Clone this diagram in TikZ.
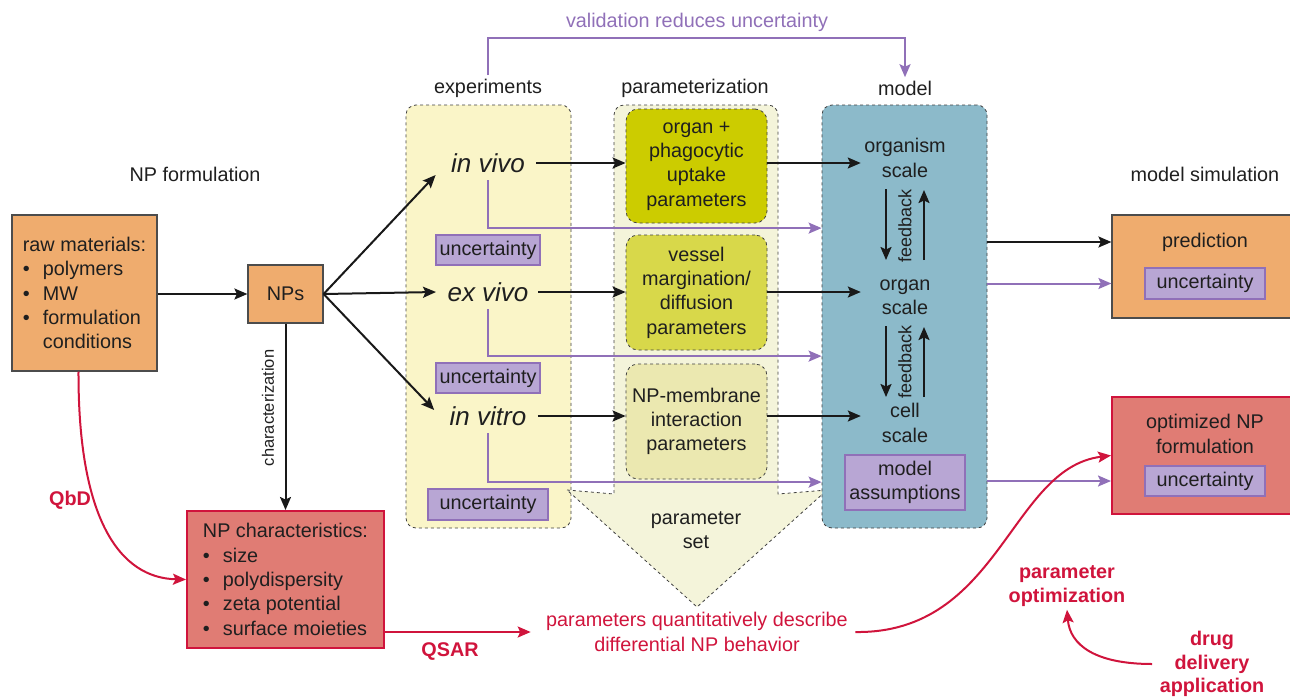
\documentclass[tikz,border=0pt]{standalone}
\usepackage{fontspec}
\setmainfont{Liberation Sans}
\usetikzlibrary{arrows.meta,positioning,calc}

\definecolor{npOrange}{RGB}{239,172,110}
\definecolor{npRed}{RGB}{224,124,116}
\definecolor{npRedLine}{RGB}{208,20,60}
\definecolor{npPurple}{RGB}{184,166,212}
\definecolor{npPurpleLine}{RGB}{144,112,184}
\definecolor{expYellow}{RGB}{250,245,200}
\definecolor{parLight}{RGB}{244,244,218}
\definecolor{parOne}{RGB}{204,204,0}
\definecolor{parTwo}{RGB}{216,216,74}
\definecolor{parThree}{RGB}{235,232,176}
\definecolor{modelBlue}{RGB}{140,186,202}

\newcommand{\bl}{\makebox[20pt][l]{\textbullet}}

\tikzset{
  every node/.style={font=\fontsize{19.8}{24.3}\selectfont, text=black!88},
  box/.style={draw=black!70, line width=1.2pt, fill=npOrange, inner sep=0pt},
  redbox/.style={draw=npRedLine, line width=2pt, fill=npRed, inner sep=0pt},
  unc/.style={draw=npPurpleLine, line width=1.8pt, fill=npPurple, inner sep=0pt, minimum height=30pt},
  panel/.style={draw=black!75, dashed, line width=0.8pt, rounded corners=10pt, inner sep=0pt},
  arr/.style={-{Stealth[length=13pt,width=11pt,inset=2.5pt]}, line width=2pt, black!90},
  parr/.style={-{Stealth[length=13pt,width=11pt,inset=2.5pt]}, line width=2pt, npPurpleLine},
  rarr/.style={-{Stealth[length=13pt,width=11pt,inset=2.5pt]}, line width=2pt, npRedLine},
  redtext/.style={text=npRedLine, font=\fontsize{19.8}{23.5}\selectfont\bfseries, align=center},
  exptext/.style={font=\fontsize{26}{30}\selectfont\itshape},
  scaletext/.style={align=center, minimum width=88pt},
}

\begin{document}
\begin{tikzpicture}[x=1pt,y=-1pt]
  \useasboundingbox (0,0) rectangle (1290,697);

  % column panels
  \node[panel, fill=expYellow, minimum width=165pt, minimum height=423pt] (exp) at (488.5,316.5) {};
  \fill[parLight] (567,490) -- (614,494) -- (614,300) [rounded corners=10pt] -- (614,105) -- (778,105) -- (778,300) [sharp corners] -- (778,494) -- (827,490) -- (697,607) -- cycle;
  \draw[black!75, dashed, line width=0.8pt] (567,490) -- (614,494) -- (614,300) [rounded corners=10pt] -- (614,105) -- (778,105) -- (778,300) [sharp corners] -- (778,494) -- (827,490) -- (697,607) -- cycle;
  \node[panel, fill=modelBlue, minimum width=165pt, minimum height=423pt] (model) at (904.5,316.5) {};

  % headings
  \node (lblform) at (195,174) {NP formulation};
  \node (lblexp) at (488,88) {experiments};
  \node (lblpar) at (695,88) {parameterization};
  \node (lblmod) at (905,88) {model};
  \node (lblsim) at (1205,174) {model simulation};
  \node[text=npPurpleLine] (valtxt) at (697,22) {validation reduces uncertainty};

  % formulation
  \node[box, minimum width=145pt, minimum height=156pt, align=left] (raw) at (84.5,293)
    {raw materials:\\ \bl polymers\\ \bl MW\\ \bl formulation\\ \hspace{20pt}conditions};
  \node[box, minimum width=75pt, minimum height=58pt] (nps) at (285.5,294) {NPs};
  \node[redbox, minimum width=197pt, minimum height=137pt, align=left] (char) at (285.5,579.5)
    {NP characteristics:\\ \bl size\\ \bl polydispersity\\ \bl zeta potential\\ \bl surface moieties};

  % experiments
  \node[exptext] (invivo) at (488,163) {in vivo};
  \node[exptext] (exvivo) at (488,292) {ex vivo};
  \node[exptext] (invitro) at (488,416) {in vitro};
  \node[unc, minimum width=104pt] (u1) at (488,250) {uncertainty};
  \node[unc, minimum width=104pt] (u2) at (488,378) {uncertainty};
  \node[unc, minimum width=120pt, minimum height=31pt] (u3) at (488,504.5) {uncertainty};

  % parameterization
  \node[panel, rounded corners=12pt, fill=parOne, minimum width=141pt, minimum height=114pt, align=center] (p1) at (696.5,166)
    {organ +\\phagocytic\\uptake\\parameters};
  \node[panel, rounded corners=12pt, fill=parTwo, minimum width=141pt, minimum height=115pt, align=center] (p2) at (696.5,292.5)
    {vessel\\margination/\\diffusion\\parameters};
  \node[panel, rounded corners=12pt, fill=parThree, minimum width=141pt, minimum height=115pt, align=center] (p3) at (696.5,421.5)
    {NP-membrane\\interaction\\parameters};
  \node[align=center] (pset) at (696,530) {parameter\\set};

  % model
  \node[scaletext] (organism) at (905,158) {organism\\scale};
  \node[scaletext] (organ) at (905,297) {organ\\scale};
  \node[scaletext] (cell) at (905,423) {cell\\scale};
  \node[rotate=90, font=\fontsize{18}{20}\selectfont] (fb1) at (905,226) {feedback};
  \node[rotate=90, font=\fontsize{18}{20}\selectfont] (fb2) at (905,362) {feedback};
  \node[unc, minimum width=120pt, minimum height=55pt, align=center] (assume) at (905,482.5) {model\\assumptions};

  % simulation
  \node[box, minimum width=183pt, minimum height=103pt] (pred) at (1203.5,266.5) {};
  \node (predlbl) at (1205,242) {prediction};
  \node[unc, minimum width=120pt, minimum height=31pt] (pu) at (1205,283.5) {uncertainty};
  \node[redbox, minimum width=183pt, minimum height=117pt] (opt) at (1203.5,455.5) {};
  \node[align=center] (optlbl) at (1205,434) {optimized NP\\formulation};
  \node[unc, minimum width=120pt] (ou) at (1205,481) {uncertainty};

  % red labels
  \node[redtext] (qbd) at (70,500) {QbD};
  \node[redtext] (qsar) at (450,652) {QSAR};
  \node[align=center, text=npRedLine] (pqd) at (697,632) {parameters quantitatively describe\\differential NP behavior};
  \node[redtext] (popt) at (1067,586) {parameter\\optimization};
  \node[redtext] (drug) at (1212,664) {drug\\delivery\\application};

  % black arrows
  \draw[arr] (raw.east |- nps.west) -- (nps.west);
  \draw[arr] (nps.east) -- ([shift={(-12pt,-12pt)}]invivo.west);
  \draw[arr] (nps.east) -- ([xshift=-8pt]exvivo.west);
  \draw[arr] (nps.east) -- ([shift={(-12pt,6pt)}]invitro.west);
  \draw[arr] (nps.south) -- (char.north);
  \node[rotate=90, font=\fontsize{16.5}{18}\selectfont] (charlbl) at (268,408) {characterization};
  \draw[arr] ([xshift=8pt]invivo.east) -- (p1.west |- invivo.east);
  \draw[arr] ([xshift=6pt]exvivo.east) -- (p2.west |- exvivo.east);
  \draw[arr] ([xshift=8pt]invitro.east) -- (p3.west |- invitro.east);
  \draw[arr] (p1.east |- invivo.east) -- (organism.west |- invivo.east);
  \draw[arr] (p2.east |- exvivo.east) -- (organ.west |- exvivo.east);
  \draw[arr] (p3.east |- invitro.east) -- (cell.west |- invitro.east);
  \draw[arr] ([shift={(-19pt,-31pt)}]organism.center) -- ([shift={(-19pt,37pt)}]organ.center);
  \draw[arr] ([shift={(19pt,37pt)}]organ.center) -- ([shift={(19pt,-32pt)}]organism.center);
  \draw[arr] ([shift={(-19pt,-29pt)}]organ.center) -- ([shift={(-19pt,26pt)}]cell.center);
  \draw[arr] ([shift={(19pt,26pt)}]cell.center) -- ([shift={(19pt,-30pt)}]organ.center);
  \draw[arr] (model.east |- predlbl.center) -- (pred.west |- predlbl.center);

  % uncertainty lines
  \draw[parr] ([yshift=-4pt]invivo.south) |- ([yshift=6pt]model.west |- u1.north);
  \draw[parr] ([yshift=-4pt]exvivo.south) |- ([yshift=6pt]model.west |- u2.north);
  \draw[parr] ([yshift=-4pt]invitro.south) |- ([yshift=6pt]model.west |- u3.north);
  \draw[parr] (model.east |- pu.center) -- (pred.west |- pu.center);
  \draw[parr] (model.east |- ou.center) -- (opt.west |- ou.center);
  \draw[parr] (lblexp.north) |- ([yshift=-3pt]valtxt.south) -| (lblmod.north);

  % red connectors
  \draw[rarr] ([xshift=-6pt]raw.south) .. controls (78,520) and (120,578) .. (char.west);
  \draw[rarr] (char.east |- pqd.west) -- ([xshift=-12pt]pqd.west);
  \draw[rarr] ([xshift=4pt]pqd.east) .. controls (1000,634) and (1010,468) .. (opt.west);
  \draw[rarr] ([xshift=-4pt]drug.west) .. controls (1095,664) and (1070,645) .. (popt.south);
\end{tikzpicture}
\end{document}
